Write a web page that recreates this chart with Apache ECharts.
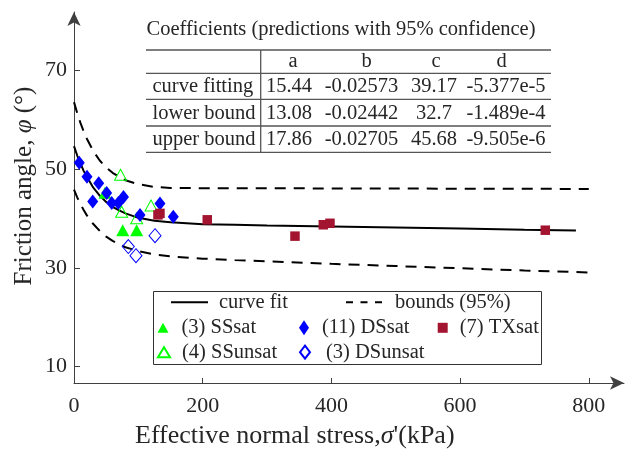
<!DOCTYPE html>
<html>
<head>
<meta charset="utf-8">
<script src="https://cdn.jsdelivr.net/npm/echarts@6/dist/echarts.min.js"></script>
<style>html,body{margin:0;padding:0;background:#fff}#c{width:636px;height:452px}</style>
</head>
<body>
<div id="c"></div>
<script>
// ---- data ----
const xTicks = [0, 200, 400, 600, 800];
const yTicks = [10, 30, 50, 70];

const fitX = [0,5,10,15,20,30,40,50,60,70,80,100,125,150,200,250,300,400,500,600,700,780];
const fitY = [54.6,52.7,51.1,49.6,48.4,46.2,44.6,43.3,42.3,41.6,41.0,40.1,39.5,39.2,38.8,38.7,38.55,38.35,38.15,37.95,37.7,37.55];

const bndX = [0,5,10,15,20,30,40,50,60,70,80,100,125,150,200,250,300,400,500,600,700,800];
const lowY = [45.8,44.25,42.9,41.7,40.6,38.85,37.45,36.3,35.45,34.75,34.15,33.35,32.7,32.3,31.85,31.55,31.3,30.8,30.35,29.9,29.45,29.05];
const upY  = [63.5,61.3,59.3,57.6,56.1,53.6,51.7,50.3,49.2,48.4,47.7,46.9,46.35,46.15,46.1,46.1,46.08,46.05,46.02,46.0,45.97,45.95];

const ssSatX = [48.2, 75.7, 97.4];
const ssSatY = [45.2, 37.6, 37.6];
const ssUnsatX = [72.3, 74.1, 97.4, 119.7];
const ssUnsatY = [48.8, 41.35, 40.0, 42.6];
const dsSatX = [8.2, 20.2, 38.4, 29.1, 50.8, 58.6, 68.8, 76.9, 102.6, 133.6, 154.3];
const dsSatY = [51.25, 48.4, 47.1, 43.4, 45.1, 43.1, 43.1, 44.3, 40.7, 43.0, 40.3];
const dsUnsatX = [84.4, 96.3, 125.9];
const dsUnsatY = [34.3, 32.45, 36.5];
const txSatX = [130.5, 133.6, 207.1, 343.4, 387.4, 397.8, 732.4];
const txSatY = [40.7, 41.0, 39.7, 36.4, 38.7, 39.0, 37.6];

const tableTitle = 'Coefficients (predictions with 95% confidence)';
const coefNames = ['a', 'b', 'c', 'd'];
const rowNames = ['curve fitting', 'lower bound', 'upper bound'];
const coefA = ['15.44', '13.08', '17.86'];
const coefB = ['-0.02573', '-0.02442', '-0.02705'];
const coefC = ['39.17', '32.7', '45.68'];
const coefD = ['-5.377e-5', '-1.489e-4', '-9.505e-6'];

const legendNames = ['curve fit', 'bounds (95%)', '(3) SSsat', '(11) DSsat', '(7) TXsat', '(4) SSunsat', '(3) DSunsat'];

// ---- helpers ----
const zip = (xs, ys) => xs.map((x, i) => [x, ys[i]]);
const FONT = '"Liberation Serif", "DejaVu Serif", serif';
const TXT = '#262626';
const AX = '#404040';
const DASH = [11, 8];

const chart = echarts.init(document.getElementById('c'), null, {renderer: 'canvas'});

// table graphics
const g = [];
const tL = 146, tR = 551;
const rules = [50, 73.3, 99.3, 126, 152.3];
rules.forEach(y => g.push({type: 'line', shape: {x1: tL, y1: y, x2: tR, y2: y}, style: {stroke: '#555', lineWidth: 1.3}, z: 10}));
g.push({type: 'line', shape: {x1: 260.7, y1: 50, x2: 260.7, y2: 152.3}, style: {stroke: '#555', lineWidth: 1.3}, z: 10});
g.push({type: 'text', x: 146.5, y: 30, z: 10, style: {text: tableTitle, fill: TXT, fontSize: 20.5, fontFamily: FONT, align: 'left', verticalAlign: 'middle'}});
const headX = [293, 366.7, 436, 501.7];
coefNames.forEach((n, i) => g.push({type: 'text', x: headX[i], y: 61.7, z: 10, style: {text: n, fill: TXT, fontSize: 20.5, fontFamily: FONT, align: 'center', verticalAlign: 'middle'}}));
const rowY = [86.7, 113.3, 139.3];
const colX = [289, 361.5, 434, 506];
rowNames.forEach((n, r) => {
  g.push({type: 'text', x: 152.5, y: rowY[r], z: 10, style: {text: n, fill: TXT, fontSize: 20.5, fontFamily: FONT, align: 'left', verticalAlign: 'middle'}});
  [coefA, coefB, coefC, coefD].forEach((col, c) => g.push({type: 'text', x: colX[c], y: rowY[r], z: 10, style: {text: col[r], fill: TXT, fontSize: 20.5, fontFamily: FONT, align: 'center', verticalAlign: 'middle'}}));
});
// legend box
g.push({type: 'rect', shape: {x: 153.5, y: 291.5, width: 388, height: 73}, style: {fill: '#fff', stroke: '#333', lineWidth: 1}, z: 3});
// axis titles
g.push({type: 'text', x: 135, y: 436, z: 10, style: {
  text: '{n|Effective normal stress,}{i|σ}{n|\'(kPa)}', align: 'left', verticalAlign: 'middle',
  rich: {n: {fontSize: 26, fontFamily: FONT, fill: TXT, color: TXT}, i: {fontSize: 26, fontFamily: FONT, fontStyle: 'italic', fill: TXT, color: TXT}}
}});
g.push({type: 'text', x: 24, y: 186, rotation: Math.PI / 2, z: 10, style: {
  text: '{n|Friction angle, }{i|φ}{n| (°)}', align: 'center', verticalAlign: 'middle',
  rich: {n: {fontSize: 25, fontFamily: FONT, fill: TXT, color: TXT}, i: {fontSize: 25, fontFamily: FONT, fontStyle: 'italic', fill: TXT, color: TXT}}
}});

const legTxt = (pad) => ({fontSize: 20.5, fontFamily: FONT, color: TXT, padding: [0, 0, 0, pad], lineHeight: 20});
function leg(name, left, rowC, w, h, pad, extra) {
  return Object.assign({data: [name], left: left, top: rowC - 10, padding: 0, itemWidth: w, itemHeight: h, selectedMode: false, textStyle: legTxt(pad), z: 5}, extra || {});
}

const option = {
  animation: false,
  backgroundColor: '#fff',
  grid: {left: 74, right: 12, top: 12, bottom: 69, containLabel: false},
  xAxis: {
    type: 'value', min: 0, max: 854.7,
    axisLine: {show: true, symbol: ['none', 'arrow'], symbolSize: [10, 14], lineStyle: {color: AX, width: 1}},
    axisTick: {show: true, inside: true, length: 5, customValues: xTicks, lineStyle: {color: AX}},
    axisLabel: {customValues: xTicks, fontSize: 22, fontFamily: FONT, color: TXT, margin: 12},
    splitLine: {show: false}
  },
  yAxis: {
    type: 'value', min: 6.70, max: 81.73,
    axisLine: {show: true, symbol: ['none', 'arrow'], symbolSize: [10, 14], lineStyle: {color: AX, width: 1}},
    axisTick: {show: true, inside: true, length: 6, customValues: yTicks, lineStyle: {color: AX}},
    axisLabel: {customValues: yTicks, fontSize: 22, fontFamily: FONT, color: TXT, margin: 7},
    splitLine: {show: false}
  },
  legend: [
    leg(legendNames[0], 170, 301.7, 37, 14, 6, {itemStyle: {opacity: 0}}),
    leg(legendNames[1], 345, 301.7, 37, 14, 7, {itemStyle: {opacity: 0}, lineStyle: {type: [7, 7.5]}}),
    leg(legendNames[2], 157.5, 327.3, 11, 10, 8),
    leg(legendNames[3], 299, 327.3, 10, 15, 8),
    leg(legendNames[4], 437.7, 327.3, 10, 10, 7),
    leg(legendNames[5], 157, 351.7, 12, 10, 7),
    leg(legendNames[6], 299, 351.7, 10, 13, 11)
  ],
  graphic: g,
  series: [
    {name: legendNames[1], type: 'line', data: zip(bndX, upY), symbol: 'none', z: 2,
     lineStyle: {color: '#000', width: 2, type: DASH}, itemStyle: {color: '#000'}},
    {name: legendNames[1], type: 'line', data: zip(bndX, lowY), symbol: 'none', z: 2,
     lineStyle: {color: '#000', width: 2, type: DASH}, itemStyle: {color: '#000'}},
    {name: legendNames[0], type: 'line', data: zip(fitX, fitY), symbol: 'none', z: 2,
     lineStyle: {color: '#000', width: 2}, itemStyle: {color: '#000'}},
    {name: legendNames[2], type: 'scatter', data: zip(ssSatX, ssSatY), symbol: 'triangle', symbolSize: [13, 12], z: 4,
     itemStyle: {color: '#00ff00', opacity: 1}},
    {name: legendNames[5], type: 'scatter', data: zip(ssUnsatX, ssUnsatY), symbol: 'triangle', symbolSize: [12, 11], z: 4,
     itemStyle: {color: 'rgba(255,255,255,0)', borderColor: '#00ff00', borderWidth: 1, opacity: 1}},
    {name: legendNames[3], type: 'scatter', data: zip(dsSatX, dsSatY), symbol: 'diamond', symbolSize: [11, 14], z: 4,
     itemStyle: {color: '#0000ff', opacity: 1}},
    {name: legendNames[6], type: 'scatter', data: zip(dsUnsatX, dsUnsatY), symbol: 'diamond', symbolSize: [12, 14], z: 4,
     itemStyle: {color: 'rgba(255,255,255,0)', borderColor: '#0000ff', borderWidth: 1, opacity: 1}},
    {name: legendNames[4], type: 'scatter', data: zip(txSatX, txSatY), symbol: 'rect', symbolSize: 9.5, z: 4,
     itemStyle: {color: '#a2142f', opacity: 1}}
  ]
};
chart.setOption(option);
</script>
</body>
</html>
